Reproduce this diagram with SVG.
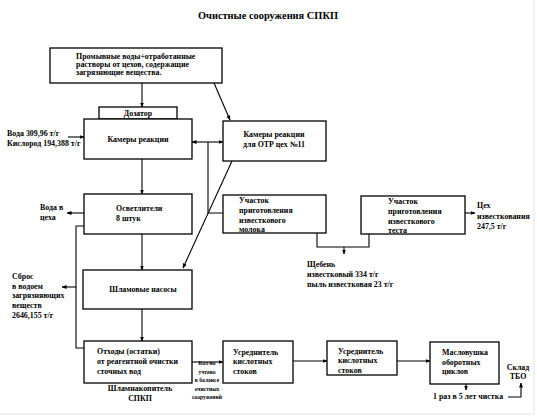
<svg xmlns="http://www.w3.org/2000/svg" width="537" height="418" viewBox="0 0 537 418">
<defs>
<marker id="ah" viewBox="0 0 10 10" refX="9" refY="5" markerWidth="5" markerHeight="5" orient="auto-start-reverse" markerUnits="userSpaceOnUse">
<path d="M0,1 L10,5 L0,9 z" fill="#000"/>
</marker>
<style>
.box{fill:#fff;stroke:#000;stroke-width:1.3}
.ln{fill:none;stroke:#000;stroke-width:1.1}
.ar{fill:none;stroke:#000;stroke-width:1.1;marker-end:url(#ah)}
text{font-family:"Liberation Serif","Times New Roman",serif;font-weight:bold;font-size:7.9px;fill:#000}
.t{font-size:10.4px}
.s{font-size:5.6px}
.c{text-anchor:middle}
</style>
</defs>
<rect width="537" height="418" fill="#fff"/>
<path d="M534,0 V414 H0" fill="none" stroke="#e2e2e2" stroke-width="1"/>
<text class="t c" x="268" y="19">Очистные сооружения СПКП</text>

<g id="connectors">
<path class="ar" d="M142,83 V107"/>
<path class="ar" d="M214,83 L230,120"/>
<path class="ar" d="M68,137 H84"/>
<path class="ar" d="M208,142 H192"/>
<path class="ar" d="M208,142 H223"/>
<path class="ln" d="M208,142 V213 H223"/>
<path class="ar" d="M232,161 L183,268"/>
<path class="ar" d="M142,159 V194"/>
<path class="ar" d="M84,213 H67"/>
<path class="ln" d="M84,226 H76 V348 H84"/>
<path class="ar" d="M76,287 H62"/>
<path class="ar" d="M142,234 V270"/>
<path class="ar" d="M142,309 V341"/>
<path class="ar" d="M192,362 H223"/>
<path class="ar" d="M293,361 H327"/>
<path class="ar" d="M397,361 H430"/>
<path class="ln" d="M317,233 V247 H369 V234"/>
<path class="ar" d="M344,247 V254"/>
<path class="ar" d="M465,213 H475"/>
<path class="ar" d="M466,384 V390"/>
<path class="ar" d="M508,397 H521 V383"/>
</g>

<g id="n-top">
<rect class="box" x="50" y="48" width="172" height="35"/>
<text x="76" y="59">Промывные воды+отработанные</text>
<text x="76" y="67">растворы от цехов, содержащие</text>
<text x="76" y="75">загрязнющие вещества.</text>
</g>
<g id="n-dozator">
<rect class="box" x="99" y="107" width="78" height="12"/>
<text class="c" x="138" y="116">Дозатор</text>
</g>
<g id="n-kamery">
<rect class="box" x="84" y="119" width="108" height="40"/>
<text class="c" x="138" y="142">Камеры реакции</text>
</g>
<g id="n-voda-in">
<text x="7" y="136">Вода 309,96 т/г</text>
<text x="7" y="146">Кислород 194,388 т/г</text>
</g>
<g id="n-otr">
<rect class="box" x="223" y="121" width="103" height="40"/>
<text class="c" x="274" y="137">Камеры реакции</text>
<text class="c" x="274" y="147">для ОТР цех №11</text>
</g>
<g id="n-osvet">
<rect class="box" x="84" y="194" width="108" height="40"/>
<text x="116" y="211">Осветлители</text>
<text x="116" y="221">8 штук</text>
</g>
<g id="n-voda-out">
<text x="40" y="210">Вода в</text>
<text x="40" y="220">цеха</text>
</g>
<g id="n-sbros">
<text x="12" y="279">Сброс</text>
<text x="12" y="289">в водоем</text>
<text x="12" y="298">загрязняющих</text>
<text x="12" y="308">веществ</text>
<text x="12" y="318">2646,155 т/г</text>
</g>
<g id="n-nasosy">
<rect class="box" x="83" y="270" width="109" height="39"/>
<text class="c" x="143" y="292">Шламовые насосы</text>
</g>
<g id="n-othody">
<rect class="box" x="84" y="341" width="108" height="42"/>
<text x="97" y="354">Отходы (остатки)</text>
<text x="97" y="364">от реагентной очистки</text>
<text x="97" y="374">сточных вод</text>
<text class="c" x="140" y="391">Шламнакопитель</text>
<text class="c" x="140" y="401">СПКП</text>
</g>
<g id="n-note">
<text class="s c" x="207" y="365">Кол-во</text>
<text class="s c" x="207" y="374">учтено</text>
<text class="s c" x="207" y="382">в балансе</text>
<text class="s c" x="207" y="391">очистных</text>
<text class="s c" x="207" y="399">сооружений</text>
</g>
<g id="n-uch1">
<rect class="box" x="223" y="195" width="103" height="38"/>
<text x="239" y="203">Участок</text>
<text x="239" y="213">приготовления</text>
<text x="239" y="223">известкового</text>
<text x="239" y="232">молока</text>
</g>
<g id="n-uch2">
<rect class="box" x="361" y="196" width="104" height="38"/>
<text x="388" y="204">Участок</text>
<text x="388" y="214">приготовления</text>
<text x="388" y="224">известкового</text>
<text x="388" y="233">теста</text>
</g>
<g id="n-ceh">
<text x="477" y="208">Цех</text>
<text x="477" y="219">известкования</text>
<text x="477" y="229">247,5 т/г</text>
</g>
<g id="n-scheben">
<text x="307" y="267">Щебень</text>
<text x="307" y="277">известковый 334 т/г</text>
<text x="307" y="287">пыль известковая 23 т/г</text>
</g>
<g id="n-usr1">
<rect class="box" x="223" y="341" width="70" height="42"/>
<text x="233" y="355">Усреднитель</text>
<text x="233" y="364">кислотных</text>
<text x="233" y="374">стоков</text>
</g>
<g id="n-usr2">
<rect class="box" x="327" y="341" width="70" height="34"/>
<text x="338" y="354">Усреднитель</text>
<text x="338" y="363">кислотных</text>
<text x="338" y="373">стоков</text>
</g>
<g id="n-maslo">
<rect class="box" x="430" y="342" width="69" height="42"/>
<text x="442" y="355">Масловушка</text>
<text x="442" y="365">оборотных</text>
<text x="442" y="374">циклов</text>
</g>
<g id="n-chistka">
<text x="433" y="399">1 раз в 5 лет чистка</text>
</g>
<g id="n-sklad">
<text class="c" x="518" y="370">Склад</text>
<text class="c" x="518" y="379">ТБО</text>
</g>
</svg>
